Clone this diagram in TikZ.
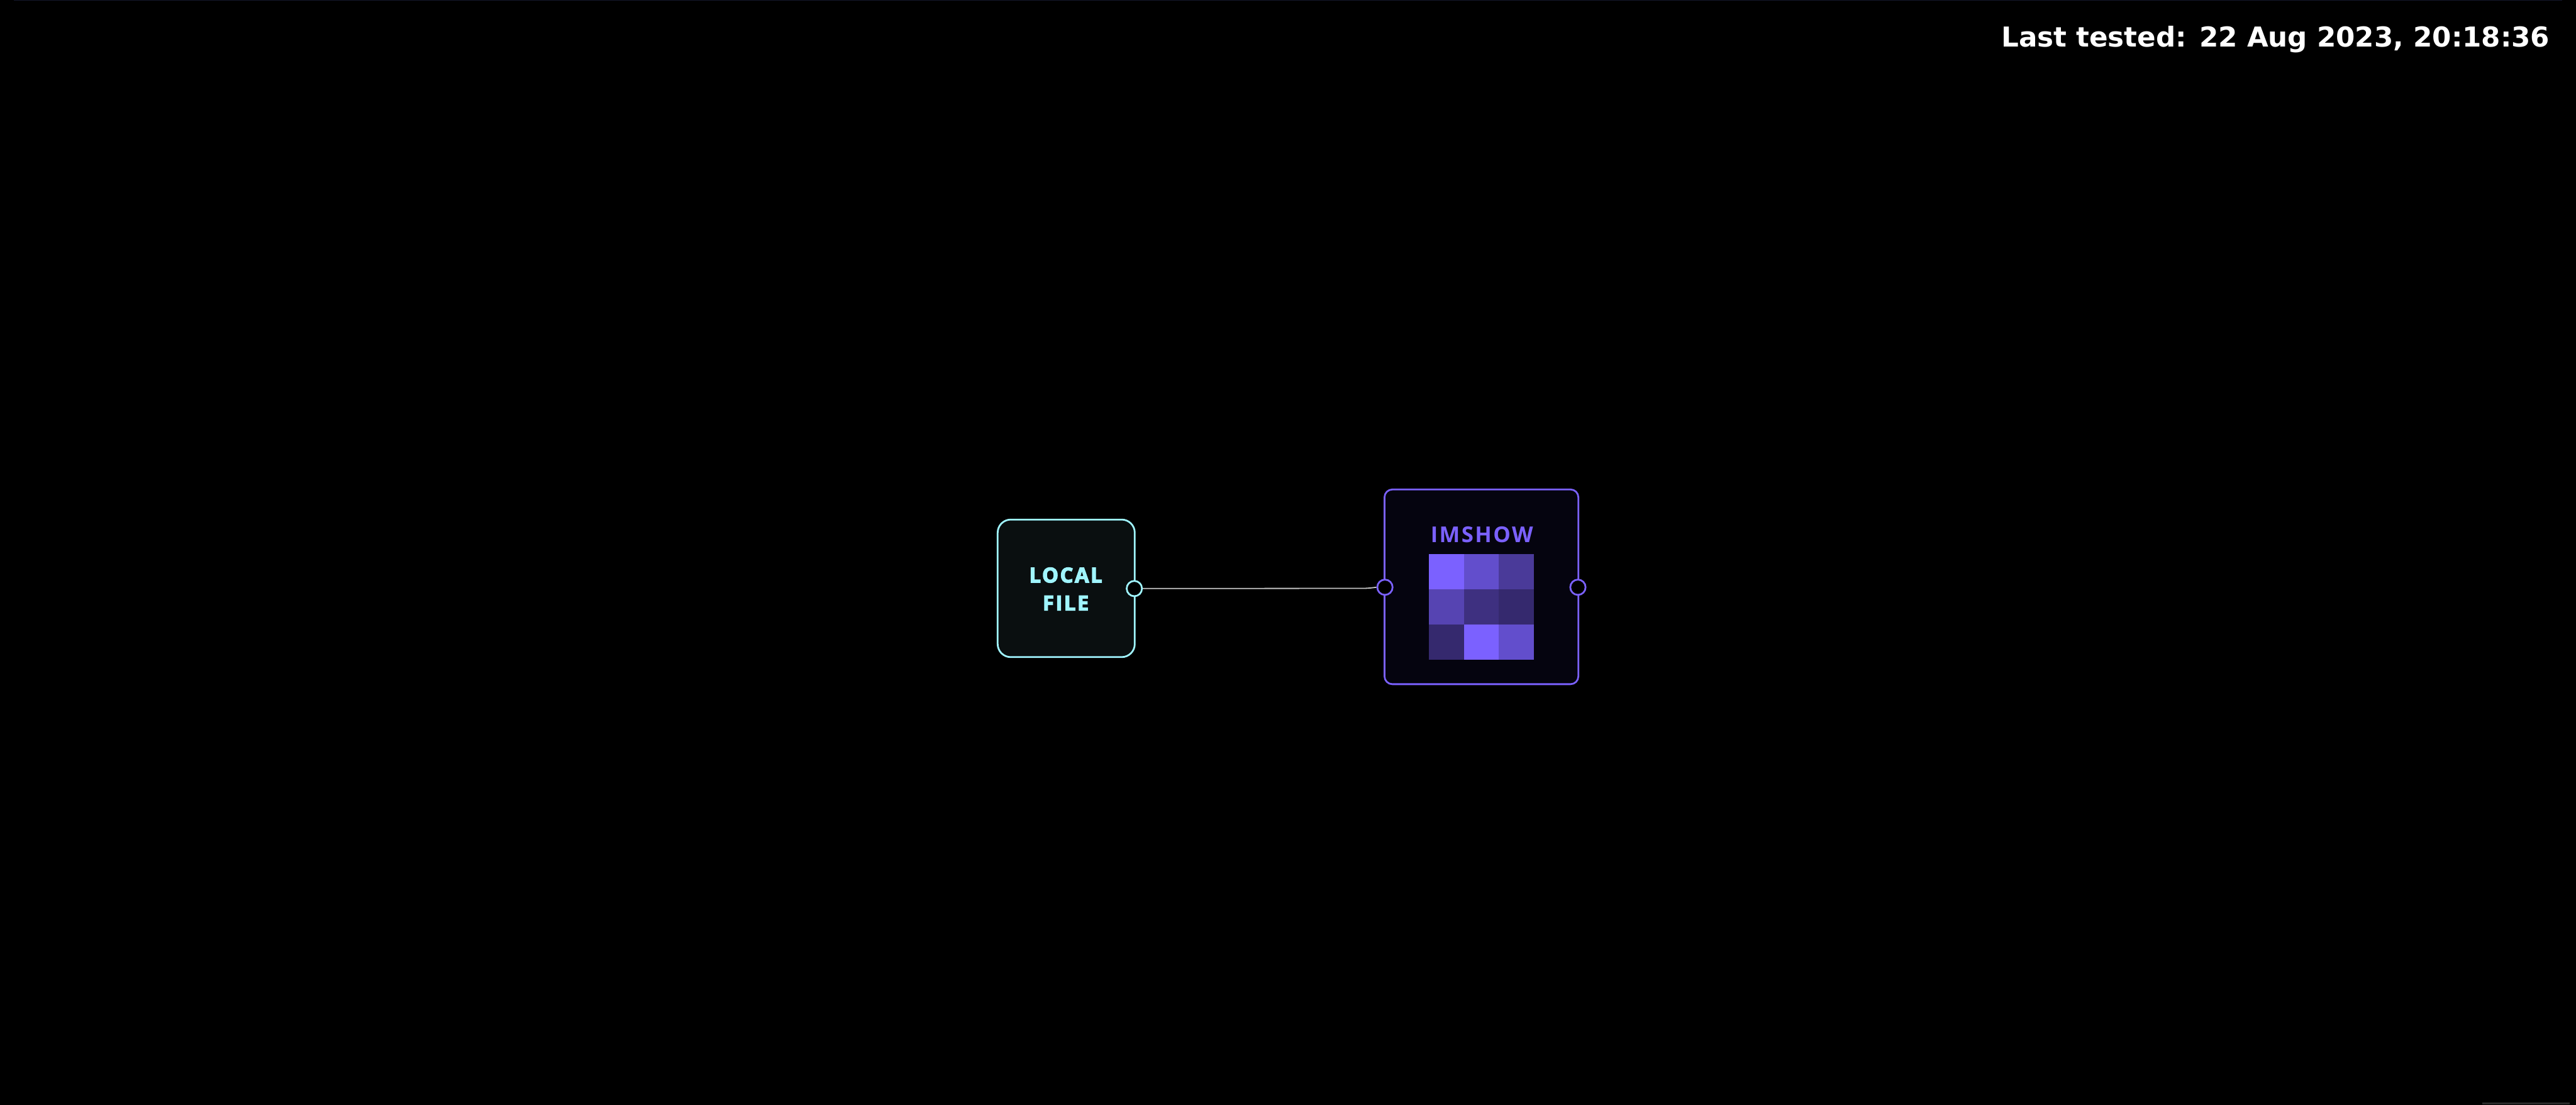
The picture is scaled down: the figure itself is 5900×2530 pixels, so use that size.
\documentclass[tikz,border=0pt]{standalone}
\usepackage{fontspec}
\newfontfamily\stampfont{DejaVu Sans}
\newfontfamily\boxfont{Open Sans}[LetterSpace=7]
\newfontfamily\heavyfont{Open Sans}[LetterSpace=8,UprightFont=* Bold,UprightFeatures={FakeBold=4}]
\definecolor{bgblack}{HTML}{000000}
\definecolor{topline}{HTML}{14172A}
\definecolor{cornerbar}{HTML}{2A2A2A}
\definecolor{cyanc}{HTML}{A0F5FF}
\definecolor{cyanfill}{HTML}{0A0F10}
\definecolor{violet}{HTML}{7B61FF}
\definecolor{violetfill}{HTML}{05040F}
\definecolor{wire}{HTML}{C4C4C4}
\definecolor{cellA}{HTML}{7B61FF}
\definecolor{cellB}{HTML}{624ECC}
\definecolor{cellC}{HTML}{4A3A99}
\definecolor{cellD}{HTML}{5644B2}
\definecolor{cellE}{HTML}{3E3080}
\definecolor{cellF}{HTML}{35296E}
\tikzset{
  x=1pt,y=-1pt,
  portc/.style={circle,draw=cyanc,fill=black,line width=4pt,minimum size=35pt,inner sep=0pt},
  portv/.style={circle,draw=violet,fill=black,line width=4pt,minimum size=35pt,inner sep=0pt},
  cell/.style={minimum size=80.5pt,inner sep=0pt,draw=none,anchor=north west},
}
\begin{document}
\begin{tikzpicture}
\useasboundingbox (0,0) rectangle (5900,2530);
\fill[bgblack] (-20,-20) rectangle (5920,2550);
\fill[topline] (32,0) rectangle (5868,2);
\fill[cornerbar] (5685,2525) rectangle (5885,2530);

\node[anchor=base east,text=white,inner sep=0pt,font=\stampfont\bfseries\fontsize{62.8}{70}\selectfont] (stamp) at (5840,108) {Last tested: 22 Aug 2023, 20:18:36};

\draw[cyanc,fill=cyanfill,line width=4pt,rounded corners=30pt] (2285,1190) rectangle (2599,1505);
\node[anchor=base,text=cyanc,inner sep=0pt,font=\heavyfont\fontsize{47}{64}\selectfont] (local1) at (2441,1334) {LOCAL};
\node[anchor=base,text=cyanc,inner sep=0pt,font=\heavyfont\fontsize{47}{64}\selectfont] (local2) at (2441,1398) {FILE};

\draw[violet,fill=violetfill,line width=4pt,rounded corners=18pt] (3171,1121) rectangle (3615,1567);
\node[anchor=base,text=violet,inner sep=0pt,font=\boxfont\bfseries\fontsize{50}{60}\selectfont] (imshow) at (3394,1242) {IMSHOW};
\node[cell,fill=cellA] (c11) at (3273,1269) {};
\node[cell,fill=cellB] (c12) at (3353,1269) {};
\node[cell,fill=cellC] (c13) at (3433,1269) {};
\node[cell,fill=cellD] (c21) at (3273,1349.5) {};
\node[cell,fill=cellE] (c22) at (3353,1349.5) {};
\node[cell,fill=cellF] (c23) at (3433,1349.5) {};
\node[cell,fill=cellF] (c31) at (3273,1430) {};
\node[cell,fill=cellA] (c32) at (3353,1430) {};
\node[cell,fill=cellB] (c33) at (3433,1430) {};

\node[portc] (out) at (2598,1348) {};
\node[portv] (in) at (3172,1345) {};
\node[portv] (out2) at (3614,1345) {};
\coordinate (bend) at (3120,1347.5);
\draw[wire,line width=2.6pt] (out.east) -- (bend) .. controls (3135,1347.5) and (3140,1346.5) .. (in.west);
\end{tikzpicture}
\end{document}
